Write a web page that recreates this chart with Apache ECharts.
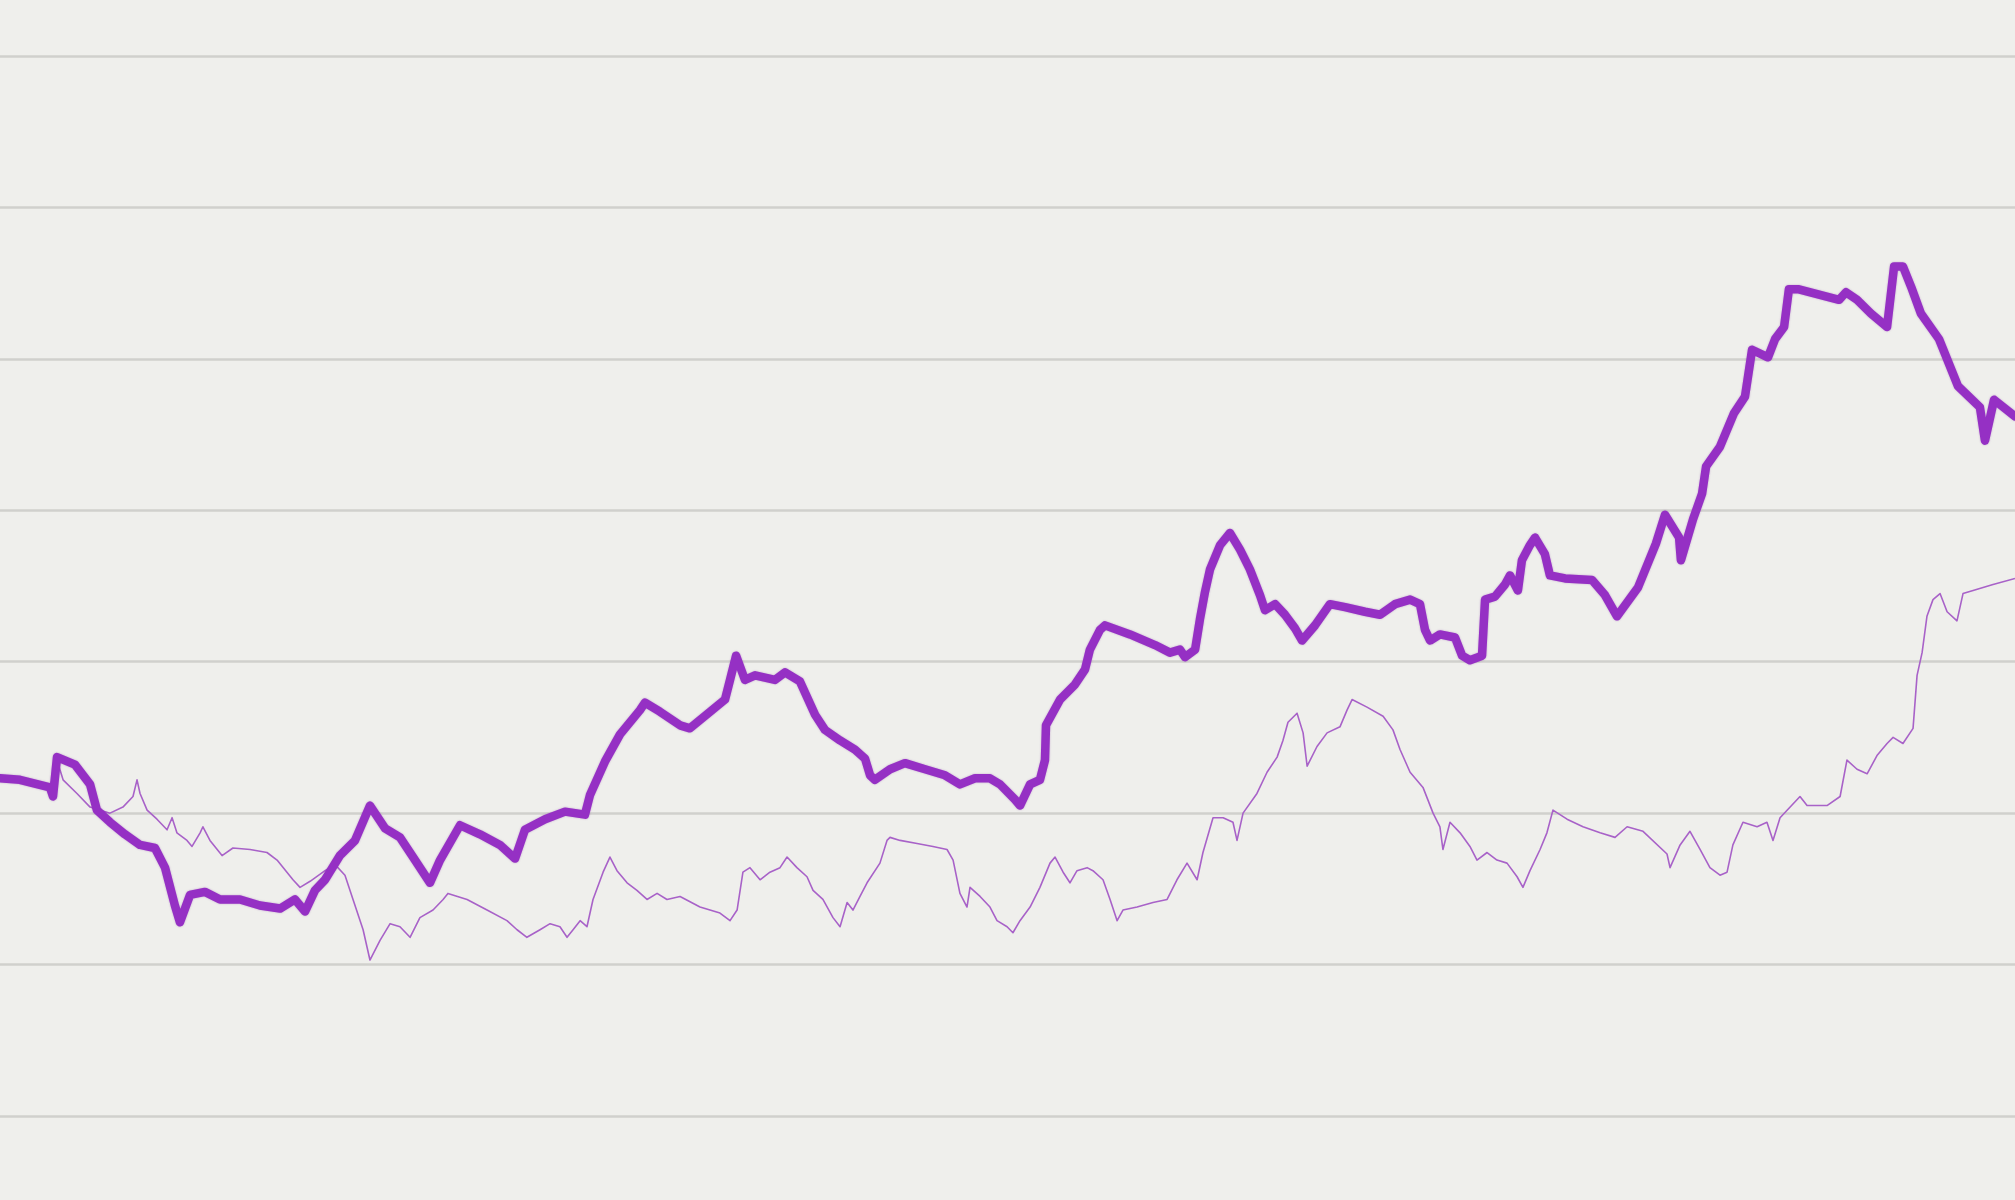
<!DOCTYPE html>
<html>
<head>
<meta charset="utf-8">
<script src="https://cdn.jsdelivr.net/npm/echarts@6/dist/echarts.min.js"></script>
<style>
  html, body { margin: 0; padding: 0; background: #efefec; }
  #chart { width: 2015px; height: 1200px; }
</style>
</head>
<body>
<div id="chart"></div>
<script>
// Y-axis gridline ticks
const yTicks = [0, 10, 20, 30, 40, 50, 60, 70];

// Thick series (time index, value)
const thickT = [0,9.9,24.8,26.3,28.3,37.2,44.7,48.1,54.6,62.0,69.5,76.9,81.9,86.8,89.3,94.3,101.7,109.2,119.1,129.0,139.0,146.4,151.4,156.3,161.3,168.7,176.2,183.6,191.1,198.5,204.5,213.4,218.4,228.3,238.2,248.1,255.6,260.5,270.5,280.4,290.3,292.8,300.2,307.7,317.6,320.1,327.5,337.5,342.4,352.4,359.8,362.3,365.3,369.7,374.7,384.6,389.6,397.0,404.5,409.4,416.9,424.3,429.3,431.8,434.2,441.7,449.1,459.1,469.0,476.4,483.9,491.3,496.3,503.7,506.2,511.2,516.1,518.6,519.1,526.1,533.5,538.5,540.9,545.9,548.4,560.8,573.2,580.6,585.6,588.1,593.1,595.5,598.0,600.5,605.5,610.4,615.4,620.3,625.3,627.8,632.8,637.7,642.7,646.2,652.6,660.0,667.5,677.4,684.9,692.3,699.8,704.7,707.2,709.7,714.6,722.1,725.6,729.5,735.5,737.0,741.9,746.9,749.4,753.3,755.3,759.3,761.8,766.7,769.2,776.7,790.1,796.5,802.5,812.9,821.8,826.3,833.3,834.2,840.2,844.7,846.7,853.6,860.5,866.0,869.5,877.4,880.9,885.4,887.8,892.3,912.7,916.1,921.6,928.5,936.5,940.0,944.4,948.9,953.3,962.3,971.7,982.6,985.1,989.6,1000];
const thickV = [22.3,22.2,21.7,21.1,23.7,23.2,21.9,20.2,19.4,18.6,17.9,17.7,16.4,13.9,12.8,14.6,14.8,14.3,14.3,13.9,13.7,14.3,13.5,14.9,15.6,17.2,18.2,20.5,19.0,18.4,17.2,15.4,16.9,19.2,18.6,17.9,17.0,18.9,19.6,20.1,19.9,21.2,23.4,25.2,26.8,27.3,26.7,25.8,25.6,26.7,27.5,28.8,30.4,28.8,29.1,28.8,29.3,28.7,26.5,25.5,24.8,24.2,23.6,22.5,22.2,22.9,23.3,22.9,22.5,21.9,22.3,22.3,21.9,20.9,20.5,21.9,22.2,23.5,25.8,27.5,28.5,29.5,30.8,32.1,32.4,31.8,31.1,30.6,30.8,30.3,30.8,32.8,34.6,36.1,37.7,38.5,37.4,36.1,34.4,33.4,33.8,33.1,32.2,31.4,32.4,33.8,33.6,33.3,33.1,33.8,34.1,33.8,32.1,31.4,31.8,31.6,30.4,30.1,30.4,34.1,34.3,35.1,35.7,34.7,36.7,37.7,38.2,37.1,35.7,35.5,35.4,34.4,33.0,34.9,37.8,39.7,38.2,36.7,39.4,41.1,42.9,44.2,46.4,47.5,50.6,50.1,51.3,52.1,54.6,54.6,53.9,54.4,53.9,53.0,52.1,56.1,56.1,54.6,53.0,51.3,48.2,46.8,44.6,47.3,46.2];

// Thin series (time index, value)
const thinT = [0,9.9,24.8,28.3,31.3,38.2,44.7,54.6,61.0,66.0,68.0,69.5,73.0,77.9,82.9,85.4,87.8,92.8,95.3,99.3,100.7,104.2,110.2,115.6,124.1,132.5,137.5,142.4,145.4,148.9,153.9,161.3,166.3,171.2,175.2,180.2,183.6,188.6,193.6,198.5,203.5,208.4,214.9,219.9,222.3,231.8,241.7,251.6,256.6,261.5,268.0,273.0,277.9,281.4,284.4,287.9,291.3,294.3,299.3,302.7,306.2,311.2,316.1,321.1,326.1,331.0,337.5,347.4,357.3,362.3,365.8,368.7,372.2,377.2,382.1,387.1,390.6,395.5,400.5,403.5,408.4,413.4,416.9,420.4,423.3,426.8,430.3,436.7,440.2,441.7,446.7,455.1,463.0,470.0,473.0,476.4,479.9,481.4,486.4,491.3,494.8,499.8,502.7,506.2,511.2,516.1,521.1,523.6,527.6,531.0,534.5,539.5,542.4,547.4,550.9,554.4,557.3,564.3,572.2,579.2,584.1,589.1,594.1,597.0,602.0,607.0,611.9,613.9,616.9,623.8,628.8,633.8,636.7,639.2,643.7,646.7,648.7,653.6,658.6,665.0,668.5,671.0,678.4,686.4,691.3,694.8,699.8,706.2,711.2,714.6,716.1,719.6,724.6,729.5,733.0,738.0,742.9,747.9,752.9,755.8,759.3,764.3,767.7,770.7,777.7,785.6,794.1,801.5,807.5,815.4,827.3,828.8,833.8,838.7,843.7,848.6,853.6,857.1,860.0,865.0,872.0,876.9,879.9,883.4,893.3,896.8,906.7,913.2,916.6,921.6,926.6,931.5,936.5,939.5,944.4,949.4,951.4,953.9,956.3,959.3,962.8,966.3,971.2,974.2,979.2,989.1,1000];
const thinV = [22.3,22.2,21.7,23.5,22.2,21.3,20.4,20.0,20.4,21.1,22.2,21.3,20.2,19.6,18.9,19.7,18.7,18.2,17.8,18.7,19.1,18.2,17.2,17.7,17.6,17.4,16.9,16.1,15.6,15.1,15.5,16.2,16.6,15.9,14.3,12.3,10.3,11.6,12.7,12.5,11.8,13.1,13.6,14.3,14.7,14.3,13.6,12.9,12.3,11.8,12.3,12.7,12.5,11.8,12.3,12.9,12.5,14.3,16.1,17.1,16.2,15.4,14.9,14.3,14.7,14.3,14.5,13.8,13.4,12.9,13.6,16.1,16.4,15.6,16.1,16.4,17.1,16.4,15.8,14.9,14.3,13.1,12.5,14.1,13.6,14.5,15.4,16.7,18.2,18.4,18.2,18.0,17.8,17.6,16.9,14.7,13.8,15.1,14.5,13.8,12.9,12.5,12.1,12.9,13.8,15.1,16.7,17.1,16.1,15.4,16.2,16.4,16.2,15.6,14.3,12.9,13.6,13.8,14.1,14.3,15.6,16.7,15.6,17.4,19.7,19.7,19.4,18.2,20.0,21.3,22.7,23.7,24.8,26.0,26.6,25.3,23.1,24.4,25.3,25.7,26.8,27.5,27.0,26.4,25.5,24.2,22.7,21.7,20.0,19.1,17.6,19.4,18.7,17.8,16.9,17.4,16.9,16.7,15.8,15.1,16.2,17.6,18.7,20.2,19.6,19.1,18.7,18.4,19.1,18.8,17.3,16.4,17.9,18.8,17.6,16.4,15.9,16.1,17.9,19.4,19.1,19.4,18.2,19.7,21.1,20.5,20.5,21.1,23.5,22.9,22.6,23.8,24.6,25.0,24.6,25.6,29.1,30.6,33.0,34.1,34.5,33.3,32.7,34.5,34.7,35.1,35.5];

const thickData = thickT.map((t, i) => [t, thickV[i]]);
const thinData = thinT.map((t, i) => [t, thinV[i]]);

const chart = echarts.init(document.getElementById('chart'), null, { renderer: 'canvas' });
chart.setOption({
  backgroundColor: '#efefec',
  animation: false,
  grid: { left: 0, right: 0, top: 56, bottom: 84, containLabel: false },
  xAxis: {
    type: 'value', min: 0, max: 1000,
    axisLine: { show: false }, axisTick: { show: false }, axisLabel: { show: false },
    splitLine: { show: false }
  },
  yAxis: {
    type: 'value', min: yTicks[0], max: yTicks[yTicks.length - 1], interval: 10,
    axisLine: { show: false }, axisTick: { show: false }, axisLabel: { show: false },
    splitLine: { show: true, lineStyle: { color: '#d0d0cd', width: 2.5 } }
  },
  series: [
    {
      name: 'thin', type: 'line', data: thinData, showSymbol: false, symbol: 'none',
      lineStyle: { color: '#a862c8', width: 1.6, join: 'round' },
      z: 2
    },
    {
      name: 'thick', type: 'line', data: thickData, showSymbol: false, symbol: 'none',
      lineStyle: { color: '#9530c4', width: 8.5, join: 'round', cap: 'round',
                   shadowColor: 'rgba(110,20,150,0.35)', shadowBlur: 2 },
      z: 3
    }
  ]
});
</script>
</body>
</html>
